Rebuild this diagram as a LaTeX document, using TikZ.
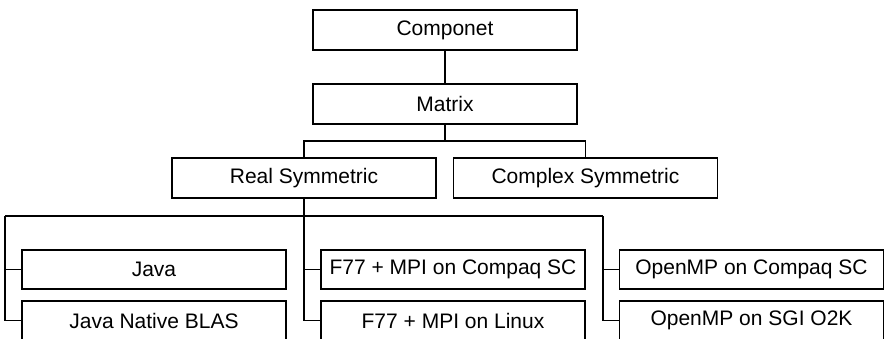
\documentclass[tikz,border=0pt]{standalone}
\usepackage{fontspec}
\setmainfont{Liberation Sans}
\begin{document}
\begin{tikzpicture}[x=1pt,y=-1pt,
  box/.style={draw=black, line width=1.5pt, minimum width=264pt, minimum height=39pt,
    inner sep=0pt, font=\fontsize{21}{25}\selectfont, text=black},
  conn/.style={draw=black, line width=1.5pt}]
\useasboundingbox (0,0) rectangle (888,338);
\clip (0,0) rectangle (888,338);
\node[box, minimum height=40pt] (comp) at (445,30) {Componet};
\node[box, minimum height=40pt] (matrix) at (445,104) {Matrix};
\node[box, minimum height=40pt] (real) at (304,178) {Real Symmetric};
\node[box, minimum height=40pt] (complex) at (585.5,178) {Complex Symmetric};
\node[box] (java) at (154,269.5) {Java};
\node[box] (blas) at (154,320.5) {Java Native BLAS};
\node[box] (f77c) at (453,269.5) {F77 + MPI on Compaq SC};
\node[box] (f77l) at (453,320.5) {F77 + MPI on Linux};
\node[box] (ompc) at (751.5,269.5) {OpenMP on Compaq SC};
\node[box] (ompl) at (751.5,320.5) {OpenMP on SGI O2K};
\coordinate (bus1) at (445,141);
\coordinate (bus2) at (304,216);
\coordinate (busL) at (5,216);
\coordinate (busR) at (603,216);
\draw[conn] (comp.south) -- (matrix.north);
\draw[conn] (matrix.south) -- (bus1) -| (real.north);
\draw[conn] (bus1) -| (complex.north);
\draw[conn] (real.south) -- (bus2);
\draw[conn] (busL) -- (busR);
\draw[conn] (busL) |- (blas.west);
\draw[conn] (busL |- java.west) -- (java.west);
\draw[conn] (bus2) |- (f77l.west);
\draw[conn] (bus2 |- f77c.west) -- (f77c.west);
\draw[conn] (busR) |- (ompl.west);
\draw[conn] (busR |- ompc.west) -- (ompc.west);
\end{tikzpicture}
\end{document}
